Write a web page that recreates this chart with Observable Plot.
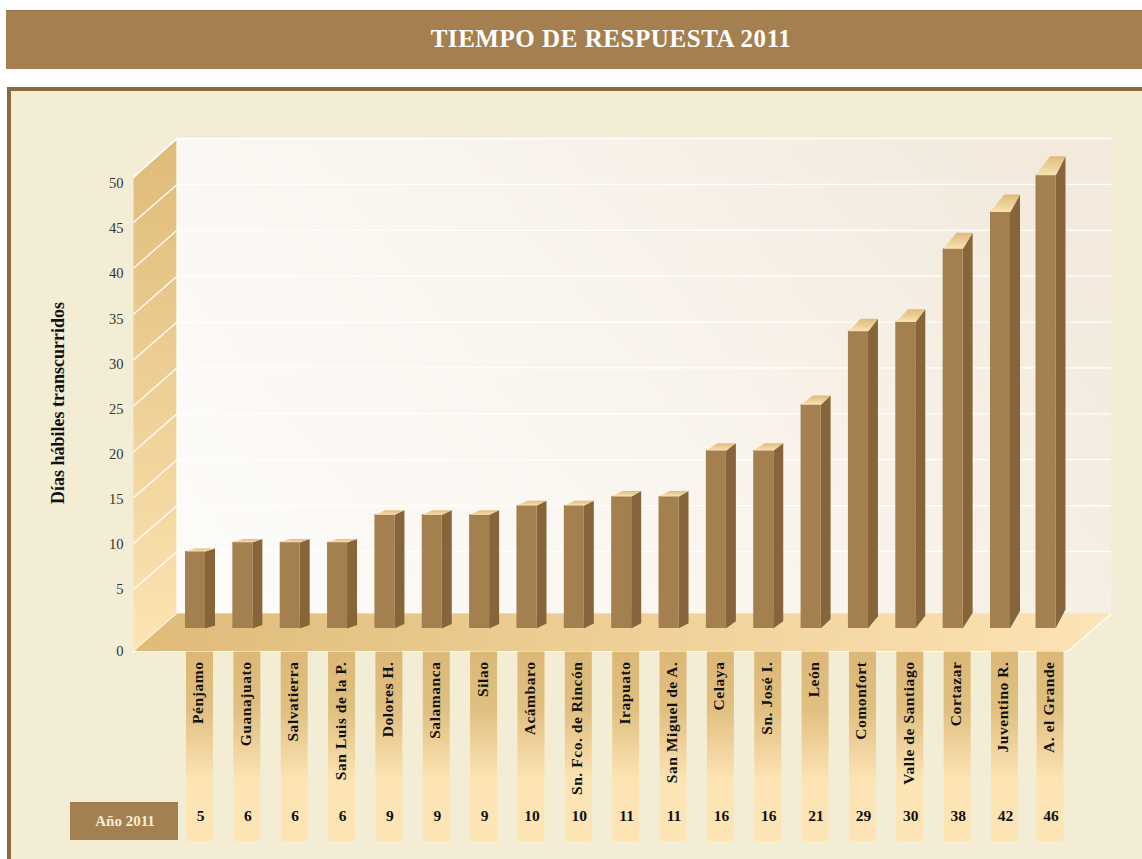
<!DOCTYPE html>
<html lang="es">
<head>
<meta charset="utf-8">
<title>Tiempo de respuesta 2011</title>
<script src="https://cdn.jsdelivr.net/npm/d3@7"></script>
<script src="https://cdn.jsdelivr.net/npm/@observablehq/plot@0.6"></script>
<style>
  html, body { margin: 0; padding: 0; background: #fff; width: 1142px; height: 859px; overflow: hidden; }
  .banner { position: absolute; left: 6px; top: 10px; right: 0; height: 59px; background: #a57f4f; box-shadow: inset 0 1px 0 #8f6f42;
    color: #fff; font: bold 25px "Liberation Serif", serif; letter-spacing: .55px; display: flex; align-items: center; justify-content: center; }
  .banner span { position: relative; left: 37px; top: -1px; }
  .panel { position: absolute; left: 7px; top: 87px; right: 0; bottom: 0; background: #f4edd6; border-left: 4.5px solid #8a6c3c; border-top: 4px solid #8a6c3c; }
  #chart { position: absolute; left: 0; top: 87px; }
  g[aria-label="x-axis tick label"] { letter-spacing: .55px; }
  g[aria-label="titulo y"] { letter-spacing: 1.25px; }
  g[aria-label="rotulo fila"] { letter-spacing: .6px; }
  g[aria-label="valores"] { letter-spacing: .5px; }
</style>
</head>
<body>
<div class="banner"><span>TIEMPO DE RESPUESTA 2011</span></div>
<div class="panel"></div>
<div id="chart"></div>
<script>
const ciudades = ["Pénjamo","Guanajuato","Salvatierra","San Luis de la P.","Dolores H.","Salamanca","Silao","Acámbaro","Sn. Fco. de Rincón","Irapuato","San Miguel de A.","Celaya","Sn. José I.","León","Comonfort","Valle de Santiago","Cortazar","Juventino R.","A. el Grande"];
const dias = [5,6,6,6,9,9,9,10,10,11,11,16,16,21,29,30,38,42,46];
const ticksY = [0,5,10,15,20,25,30,35,40,45,50];
const tituloY = "Días hábiles transcurridos";
const rotuloFila = "Año 2011";

const serif = "Liberation Serif";
const top0 = 87; // page offset of the SVG
const n = ciudades.length;
const xOpt = {type: "linear", domain: [0, n - 2, n - 1], range: [195, 1000, 1045.5]};
const yOpt = {type: "linear", domain: [0, 5, 50], range: [613 - top0, 551 - top0, 138 - top0]};
const xS = Plot.scale({x: xOpt});
const yS = Plot.scale({y: yOpt});
// convert page pixels / pixel offsets into scale units, so that every mark goes through the scales
const PX = p => xS.invert(p);
const PY = p => yS.invert(p - top0);
const X = (i, off) => xS.invert(xS.apply(i) + off);
const Y = (v, off) => yS.invert(yS.apply(v) + off);

const idx = d3.range(n);
const halfW = 10, sideDx = 9.5, baseOff = 15;
const depth = v => 3 + 0.39 * (v - 5);
const poly = (id, pts) => pts.map(([x, y]) => ({id, x, y}));

const sides = idx.flatMap(i => {
  const v = dias[i], d = depth(v), R = X(i, halfW - 0.5), R2 = X(i, halfW + sideDx);
  return poly(i, [[R, Y(0, baseOff)], [R, v], [R2, Y(v, -d)], [R2, Y(0, baseOff - d)]]);
});
const tops = idx.flatMap(i => {
  const v = dias[i], d = depth(v), ls = 10 + (d - 3) * 0.25;
  return poly(i, [[X(i, -halfW), v], [X(i, halfW), v], [X(i, halfW + sideDx), Y(v, -d)], [X(i, -halfW + ls), Y(v, -d)]]);
});

const wall = poly("w", [[PX(133), PY(177)], [PX(176.5), PY(138)], [PX(176.5), PY(613)], [PX(133), PY(651)]]);
const floor = poly("f", [[PX(133), PY(651)], [PX(176.5), PY(613)], [PX(1111), PY(613)], [PX(1067), PY(651)]]);

const defs = () => d3.create("svg:defs").html(`
  <linearGradient id="gBack" x1="0" y1=".7" x2="1" y2=".3">
    <stop offset="0" stop-color="#fdfbf8"/><stop offset=".5" stop-color="#f9f4ed"/><stop offset="1" stop-color="#f3eadd"/>
  </linearGradient>
  <linearGradient id="gWall" x1="0" y1="0" x2="0" y2="1">
    <stop offset="0" stop-color="#dfbb78"/><stop offset="1" stop-color="#fde4b4"/>
  </linearGradient>
  <linearGradient id="gFloor" x1="0" y1="0" x2="1" y2="0">
    <stop offset="0" stop-color="#dfbb78"/><stop offset="1" stop-color="#fde4b6"/>
  </linearGradient>
  <linearGradient id="gStripe" x1="0" y1="0" x2="0" y2="1">
    <stop offset="0" stop-color="#dcb877"/><stop offset=".3" stop-color="#e0bf80"/><stop offset=".68" stop-color="#fde4b4"/><stop offset="1" stop-color="#fde4b4"/>
  </linearGradient>
  <linearGradient id="gTop" x1="0" y1="0" x2="0" y2="1">
    <stop offset="0" stop-color="#e0bb78"/><stop offset="1" stop-color="#f8e2b4"/>
  </linearGradient>`).node();

const chart = Plot.plot({
  width: 1142, height: 859 - top0, margin: 0,
  marginBottom: 859 - 661,
  style: {background: "transparent", fontFamily: serif},
  x: xOpt,
  y: {...yOpt, axis: null},
  marks: [
    defs,
    // back wall
    Plot.rect([0], {x1: PX(176.5), x2: PX(1111), y1: 0, y2: 50, fill: "url(#gBack)"}),
    Plot.ruleY(ticksY.slice(1), {x1: PX(176.5), x2: PX(1111), stroke: "#fff", strokeWidth: 1.3}),
    // left wall
    Plot.line(wall, {x: "x", y: "y", z: "id", fill: "url(#gWall)", stroke: "#fff", strokeWidth: 1.2}),
    Plot.link(ticksY, {x1: PX(133), x2: PX(176.5), y1: t => Y(t, 38), y2: t => t, stroke: "#fff", strokeWidth: 1.3}),
    // floor
    Plot.line(floor, {x: "x", y: "y", z: "id", fill: "url(#gFloor)", stroke: "none"}),
    Plot.link([0], {x1: PX(133), x2: PX(1067), y1: PY(651), y2: PY(651), stroke: "#fff", strokeWidth: 1.2}),
    Plot.link([0], {x1: PX(1067), x2: PX(1111), y1: PY(651), y2: PY(613), stroke: "#fff", strokeWidth: 1.2}),
    // stripes under the floor
    Plot.rect(idx, {x1: i => X(i, -9), x2: i => X(i, 18), y1: PY(651.5), y2: PY(841), fill: "url(#gStripe)"}),
    // bars
    Plot.line(sides, {x: "x", y: "y", z: "id", fill: "#87653a", stroke: "none"}),
    Plot.rect(idx, {x1: i => X(i, -halfW), x2: i => X(i, halfW), y1: Y(0, baseOff), y2: i => dias[i], fill: "#a47f4f"}),
    Plot.line(tops, {x: "x", y: "y", z: "id", fill: "url(#gTop)", stroke: "none"}),
    // axis labels
    Plot.text(ticksY, {x: PX(123), y: t => Y(t, 37.5 + t / 50 * 7.5), text: t => `${t}`, textAnchor: "end", fontSize: 14.5, fill: "#333"}),
    Plot.text([tituloY], {x: PX(58), y: PY(402.5), rotate: -90, fontSize: 18, fontWeight: "bold", fill: "#111", ariaLabel: "titulo y"}),
    Plot.axisX(idx, {anchor: "bottom", tickSize: 0, tickPadding: 0, label: null, tickRotate: -90, tickFormat: i => ciudades[i], dx: 3, fontSize: 15.5, fontWeight: "bold", fill: "#111"}),
    // bottom row
    Plot.rect([0], {x1: PX(70), x2: PX(178), y1: PY(802), y2: PY(840), fill: "#a47f4f"}),
    Plot.text([rotuloFila], {x: PX(124.5), y: PY(821), fontSize: 15, fontWeight: "bold", fill: "#f6ecd6", ariaLabel: "rotulo fila"}),
    Plot.text(idx, {x: i => i, dx: 5, y: PY(816), text: i => `${dias[i]}`, fontSize: 15.5, fontWeight: "bold", fill: "#111", ariaLabel: "valores"})
  ]
});
document.getElementById("chart").append(chart);
</script>
</body>
</html>
